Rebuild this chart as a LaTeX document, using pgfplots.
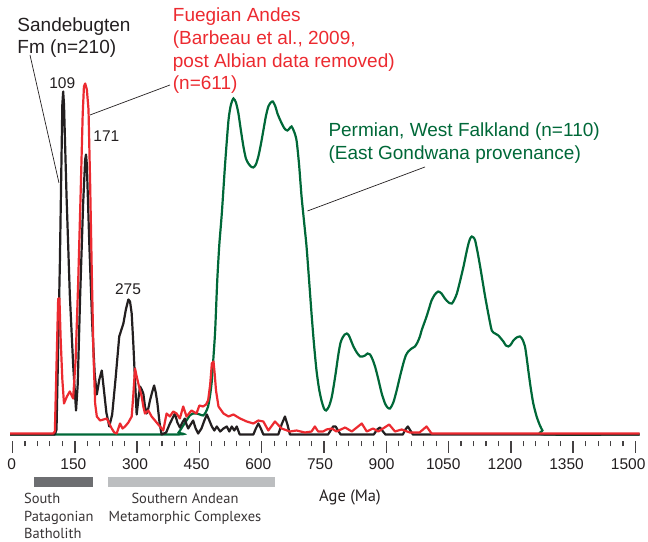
\documentclass[border=0pt]{standalone}
\usepackage{pgfplots}
\pgfplotsset{compat=1.18}
\usepackage{fontspec}
\setmainfont{Liberation Sans}
\newfontfamily\myriad{PT Sans}
\definecolor{cred}{HTML}{EC2A30}
\definecolor{cgreen}{HTML}{006838}
\definecolor{cblack}{HTML}{231F20}
\definecolor{dgray}{HTML}{6D6E71}
\definecolor{lgray}{HTML}{BCBEC0}
\begin{document}
\begin{tikzpicture}
\useasboundingbox (0,0) rectangle (648bp,542bp);
% data axis (x in Ma, y in relative probability, pixel units)
\begin{axis}[at={(0,0)}, anchor=south west, scale only axis,
  width=648bp, height=542bp, xmin=-30.1, xmax=1530.2, ymin=-107.5, ymax=434.5,
  hide axis, clip=false]
% Permian, West Falkland
\addplot[cgreen, line width=2.2bp, smooth, tension=0.4] coordinates {
(-6,0) (390,0) (400,2) (411,9) (419,14) (427,19) (435,21) (443,21) (451,20) (459,19)
(465,22) (471,28) (476,40) (480,54) (484,78) (488,104) (493,154) (498,190) (504,221)
(512,271) (520,314) (526,330) (532,336) (538,332) (544,321) (550,304) (556,288)
(562,276) (568,271) (574,268) (580,267) (586,270) (592,278) (598,290) (604,304)
(610,318) (616,328) (622,332) (627,333) (633,328) (638,321) (645,314) (652,308)
(657,305) (662,304) (667,306) (672,308) (678,303) (684,294) (690,270) (696,238)
(702,213) (708,188) (714,155) (720,121) (726,90) (732,64) (738,46) (744,34) (750,26)
(755,24) (762,28) (769,38) (777,58) (785,81) (790,92) (795,97) (800,100) (805,101)
(810,99) (815,94) (821,88) (829,82) (837,78) (843,78) (849,79) (855,81) (861,80)
(867,75) (873,68) (881,55) (889,41) (897,31) (903,27) (909,26) (917,32) (925,44)
(933,58) (941,71) (947,79) (953,83) (961,86) (969,88) (975,92) (981,98) (985,104)
(991,111) (997,118) (1003,126) (1009,134) (1017,140) (1025,143) (1033,141) (1041,136)
(1050,132) (1058,131) (1064,135) (1070,141) (1078,154) (1086,168) (1093,182) (1098,191)
(1102,196) (1106,198) (1110,197) (1114,194) (1120,182) (1126,168) (1132,153) (1138,138)
(1146,120) (1154,104) (1162,101) (1170,99) (1176,96) (1182,93) (1188,89) (1194,88)
(1200,90) (1206,94) (1214,97) (1222,98) (1228,95) (1234,88) (1238,77) (1242,64)
(1248,46) (1254,31) (1262,18) (1270,9) (1276,4) (1282,0) (1510,0)};
% Sandebugten Fm
\addplot[cblack, line width=2.2bp, line join=round] coordinates {
(-6,0) (102,0) (106,5) (114,170) (120,330) (122,343) (124,330) (130,240) (138,140)
(146,70) (153,24) (157,50) (163,140) (170,230) (175,275) (177,280) (179,270) (185,190)
(192,110) (198,60) (203,40) (209,55) (215,64) (220,45) (226,22) (233,8) (240,20)
(248,55) (257,98) (267,111) (273,125) (279,135) (283,133) (287,121) (291,90) (295,54)
(299,20) (303,35) (307,48) (311,45) (315,41) (319,28) (323,21) (327,26) (331,34)
(336,42) (341,49) (345,42) (349,31) (354,12) (359,0) (370,2) (379,11) (385,16) (391,21)
(397,12) (403,7) (409,12) (415,16) (419,10) (423,6) (429,10) (435,14) (441,6) (447,1)
(455,6) (462,14) (468,20) (474,14) (480,8) (486,4) (492,8) (500,3) (508,6) (516,8)
(522,3) (528,8) (534,4) (540,8) (547,0) (580,0) (586,6) (592,11) (598,6) (604,0)
(640,0) (648,10) (656,18) (662,10) (668,0) (760,0) (766,4) (772,8) (778,8) (784,4)
(790,0) (870,0) (878,5) (885,7) (892,3) (898,0) (940,0) (946,5) (952,8) (958,4)
(964,0) (1510,0)};
% Fuegian Andes
\addplot[cred, line width=2.2bp, line join=round] coordinates {
(-6,1) (98,1) (102,3) (106,70) (110,136) (113,136) (116,95) (120,55) (124,31) (131,38)
(138,43) (146,36) (152,75) (158,150) (164,240) (169,320) (172,348) (175,351) (179,345)
(183,325) (187,250) (191,160) (195,80) (199,31) (203,18) (211,14) (219,15) (227,16)
(233,11) (239,6) (245,2) (251,1) (259,11) (265,6) (271,8) (279,12) (287,18) (291,40)
(295,66) (299,58) (303,51) (311,38) (315,28) (319,21) (327,24) (335,18) (343,14)
(355,8) (363,4) (371,21) (379,18) (387,23) (395,21) (403,16) (411,28) (419,18)
(431,24) (443,21) (450,29) (459,28) (466,30) (471,34) (476,50) (480,71) (484,73)
(487,60) (490,44) (496,28) (508,21) (520,18) (532,20) (548,16) (564,13) (580,11)
(592,14) (604,13) (616,4) (632,13) (648,6) (668,3) (684,4) (704,2) (720,3) (728,8)
(736,3) (748,3) (756,5) (769,6) (780,3) (801,7) (817,3) (841,11) (853,3) (868,6)
(881,3) (907,10) (921,3) (937,5) (957,2) (980,2) (997,8) (1009,1) (1510,1)};
\end{axis}
% tick axis (tick marks only)
\begin{axis}[at={(0bp,101bp)}, anchor=south west, scale only axis,
  width=648bp, height=10bp, xmin=-30.1, xmax=1530.2, ymin=0, ymax=1,
  axis x line=bottom, axis y line=none, axis line style={draw=none},
  xtick={0,150,...,1500}, xticklabels={}, minor x tick num=4, tick align=outside,
  major tick length=12bp, minor tick length=5.5bp,
  every major tick/.style={cblack!85, line width=1.5bp},
  every minor tick/.style={cblack!85, line width=1.1bp}]
\addplot[draw=none] coordinates {(0,0.5)};
\end{axis}
% tick label axis (labels only)
\begin{axis}[at={(0bp,101bp)}, anchor=south west, scale only axis,
  width=648bp, height=10bp, xmin=-28.5, xmax=1548.2, ymin=0, ymax=1,
  axis x line=bottom, axis y line=none, axis line style={draw=none},
  xtick={0,150,...,1500}, major tick length=0pt, tick style={draw=none},
  /pgf/number format/assume math mode=true,
  /pgf/number format/1000 sep={},
  xticklabel style={font=\fontsize{15.5bp}{18bp}\selectfont, text=cblack, anchor=base, yshift=-29bp}]
\addplot[draw=none] coordinates {(0,0.5)};
\end{axis}
\begin{scope}[yshift=542bp, x=1bp, y=-1bp]
\fill[dgray] (34,476.7) rectangle (92.7,486.7);
\fill[lgray] (108.3,476.7) rectangle (275,486.7);
\draw[cblack, line width=0.7bp] (30,55) -- (59,183);
\draw[cblack, line width=0.7bp] (170,85) -- (90,115);
\draw[cblack, line width=0.7bp] (425,167) -- (307.5,211);
\begin{scope}[every node/.style={inner sep=0pt, font=\fontsize{19bp}{22bp}\selectfont}]
\node[anchor=base west, text=cblack] at (17.3,31.7) {Sandebugten};
\node[anchor=base west, text=cblack] at (17.3,53.3) {Fm (n=210)};
\node[anchor=base west, text=cred] at (172.7,21.7) {Fuegian Andes};
\node[anchor=base west, text=cred] at (172.7,44.7) {(Barbeau et al., 2009,};
\node[anchor=base west, text=cred] at (172.7,67.7) {post Albian data removed)};
\node[anchor=base west, text=cred] at (172.7,90) {(n=611)};
\node[anchor=base west, text=cgreen] at (328.3,136.7) {Permian, West Falkland (n=110)};
\node[anchor=base west, text=cgreen] at (328.3,160) {(East Gondwana provenance)};
\end{scope}
\begin{scope}[every node/.style={inner sep=0pt, text=cblack, font=\fontsize{15.5bp}{18bp}\selectfont}]
\node[anchor=base] at (62.2,88.3) {109};
\node[anchor=base west] at (93.3,141.7) {171};
\node[anchor=base] at (128,295) {275};
\node[anchor=base] at (350,501.7) {\myriad\fontsize{16.5bp}{19bp}\selectfont Age (Ma)};
\end{scope}
\begin{scope}[every node/.style={inner sep=0pt, text=cblack!90, font=\myriad\fontsize{14.5bp}{17bp}\selectfont}]
\node[anchor=base west] at (24,503.3) {South};
\node[anchor=base west] at (24,521.7) {Patagonian};
\node[anchor=base west] at (24,538.3) {Batholith};
\node[anchor=base] at (185,503.3) {Southern Andean};
\node[anchor=base] at (185,521.7) {Metamorphic Complexes};
\end{scope}
\end{scope}
\end{tikzpicture}
\end{document}
